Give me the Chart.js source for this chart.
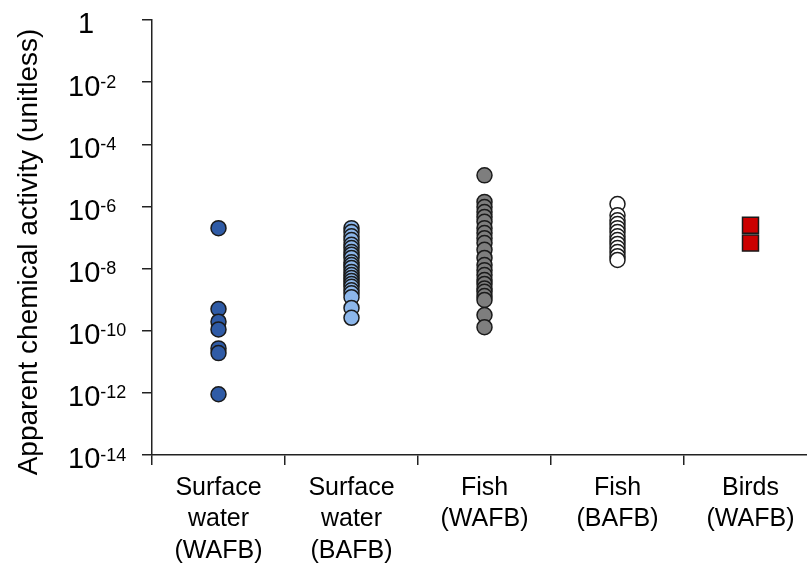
<!DOCTYPE html>
<html>
<head>
<meta charset="utf-8">
<script src="https://cdn.jsdelivr.net/npm/chart.js@4.4.1/dist/chart.umd.min.js"></script>
<style>
  html, body { margin: 0; padding: 0; background: #fff; overflow: hidden; }
  canvas { display: block; }
</style>
</head>
<body>
<canvas id="chart" width="807" height="563"></canvas>
<script>
// categories (x axis, one per column)
const categories = [
  ['Surface', 'water', '(WAFB)'],
  ['Surface', 'water', '(BAFB)'],
  ['Fish', '(WAFB)'],
  ['Fish', '(BAFB)'],
  ['Birds', '(WAFB)']
];

// apparent chemical activity values
const surfaceWaterWAFB = [2.0e-7, 5.0e-10, 1.95e-10, 1.1e-10, 2.7e-11, 1.9e-11, 9e-13];
const surfaceWaterBAFB = [2.0e-7, 1.5e-7, 1.1e-7, 8.3e-8, 5.8e-8, 4.6e-8, 3.4e-8, 2.8e-8, 2.2e-8,
  1.6e-8, 1.3e-8, 1.05e-8, 7.8e-9, 6.2e-9, 5.0e-9, 4.0e-9, 3.2e-9, 2.6e-9, 2.0e-9, 1.6e-9,
  1.2e-9, 5.4e-10, 2.6e-10];
const fishWAFB = [1.0e-5, 1.4e-6, 9.5e-7, 6.6e-7, 4.6e-7, 3.2e-7, 2.0e-7, 1.4e-7, 9.5e-8, 6.6e-8,
  4.0e-8, 2.2e-8, 1.3e-8, 8.9e-9, 6.2e-9, 4.3e-9, 3.2e-9, 2.3e-9, 1.8e-9, 1.3e-9, 9.8e-10,
  3.2e-10, 1.3e-10];
const fishBAFB = [1.2e-6, 5.2e-7, 3.6e-7, 2.7e-7, 2.0e-7, 1.5e-7, 1.1e-7, 8.3e-8, 6.2e-8, 4.6e-8,
  3.4e-8, 2.5e-8, 1.9e-8];
const birdsWAFB = [2.5e-7, 6.6e-8];

// y tick exponents (powers of ten)
const yExponents = [0, -2, -4, -6, -8, -10, -12, -14];
const yTitle = 'Apparent chemical activity (unitless)';

const groups = [surfaceWaterWAFB, surfaceWaterBAFB, fishWAFB, fishBAFB, birdsWAFB];
const fills = ['#2f5ba6', '#8cb6ea', '#7e7e7e', '#ffffff', '#cc0000'];

const datasets = groups.map((vals, i) => ({
  data: vals.map(v => ({ x: i + 0.5, y: v })),
  backgroundColor: fills[i],
  borderColor: '#1a1a1a',
  borderWidth: 1.5,
  pointRadius: i === 4 ? 11.3 : 7.5,
  pointStyle: i === 4 ? 'rect' : 'circle',
  showLine: false
}));

// x axis runs right to the canvas edge, like the original figure
const fullWidthPlugin = {
  id: 'fullWidth',
  afterLayout(chart) {
    const x = chart.scales.x;
    const a = chart.chartArea;
    x.right = chart.width;
    x.width = x.right - x.left;
    x.configure();
    a.right = chart.width;
    a.width = a.right - a.left;
  }
};

// draws the y tick labels with real superscripts, and the y title
const yLabelsPlugin = {
  id: 'yLabels',
  afterDraw(chart) {
    const ctx = chart.ctx;
    const y = chart.scales.y;
    ctx.save();
    ctx.fillStyle = '#000';
    ctx.textBaseline = 'alphabetic';
    yExponents.forEach(e => {
      const py = y.getPixelForValue(Number('1e' + e));
      if (e === 0) {
        ctx.font = '29px "Liberation Sans", Arial, sans-serif';
        ctx.textAlign = 'center';
        ctx.fillText('1', 86, py + 13.4);
        return;
      }
      ctx.textAlign = 'left';
      ctx.font = '29px "Liberation Sans", Arial, sans-serif';
      ctx.fillText('10', 68, py + 13.4);
      const w = ctx.measureText('10').width;
      ctx.font = '18px "Liberation Sans", Arial, sans-serif';
      ctx.fillText(String(e), 68 + w, py + 5.5);
    });
    ctx.translate(29, 252);
    ctx.rotate(-Math.PI / 2);
    ctx.font = '28px "Liberation Sans", Arial, sans-serif';
    ctx.textAlign = 'center';
    ctx.textBaseline = 'middle';
    ctx.fillText(yTitle, 0, 0);
    ctx.restore();
  }
};

new Chart(document.getElementById('chart'), {
  type: 'scatter',
  data: { datasets },
  plugins: [fullWidthPlugin, yLabelsPlugin],
  options: {
    responsive: false,
    animation: false,
    layout: { padding: { top: 20, left: 0, right: 0, bottom: 0 } },
    plugins: {
      legend: { display: false },
      tooltip: { enabled: false }
    },
    scales: {
      x: {
        type: 'linear',
        min: 0,
        max: 655 / 133,
        bounds: 'data',
        afterBuildTicks: scale => {
          const t = [];
          for (let v = 0; v < 5; v += 0.5) t.push({ value: v });
          scale.ticks = t;
        },
        afterFit: scale => {
          scale.height = 108;
          scale.paddingLeft = 0;
          scale.paddingRight = 0;
        },
        border: { display: true, color: '#222', width: 1.5 },
        grid: {
          drawOnChartArea: false,
          drawTicks: true,
          tickLength: 10,
          lineWidth: 1.5,
          tickColor: c => (c.tick && Number.isInteger(c.tick.value)) ? '#222' : 'rgba(0,0,0,0)'
        },
        ticks: {
          autoSkip: false,
          maxRotation: 0,
          minRotation: 0,
          padding: 7,
          color: '#000',
          font: { family: '"Liberation Sans", Arial, sans-serif', size: 25, lineHeight: 1.26 },
          callback: v => Number.isInteger(v) ? '' : categories[Math.floor(v)]
        }
      },
      y: {
        type: 'logarithmic',
        min: 1e-14,
        max: 1,
        afterBuildTicks: scale => {
          scale.ticks = yExponents.map(e => ({ value: Number('1e' + e), major: true }));
        },
        afterFit: scale => {
          scale.width = 152;
          scale.paddingTop = 0;
          scale.paddingBottom = 0;
        },
        border: { display: true, color: '#222', width: 1.5 },
        grid: {
          drawOnChartArea: false,
          drawTicks: true,
          tickLength: 10,
          lineWidth: 1.5,
          tickColor: '#222'
        },
        ticks: { display: false }
      }
    }
  }
});
</script>
</body>
</html>
